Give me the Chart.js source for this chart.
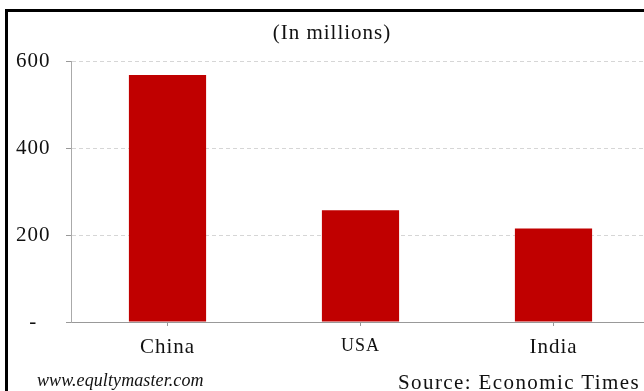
<!DOCTYPE html>
<html>
<head>
<meta charset="utf-8">
<script src="https://cdn.jsdelivr.net/npm/chart.js@4"></script>
<style>
  html, body { margin: 0; padding: 0; background: #fff; }
  body { width: 644px; height: 391px; overflow: hidden; position: relative; font-family: "Liberation Serif", "Times New Roman", serif; }
  #wrap { position: absolute; left: 0; top: 0; width: 650px; height: 391px; }
  #frame { position: absolute; left: 5px; top: 9px; width: 700px; height: 500px; border-left: 3px solid #000; border-top: 3px solid #000; }
  .foot { position: absolute; color: #111; white-space: nowrap; }
  #site { left: 37px; top: 370px; font-size: 18px; font-style: italic; letter-spacing: 0.1px; }
  #src { left: 398px; top: 370px; font-size: 21px; letter-spacing: 1.4px; }
</style>
</head>
<body>
<div id="frame"></div>
<div id="wrap"><canvas id="chart" width="650" height="391"></canvas></div>
<div class="foot" id="site">www.equltymaster.com</div>
<div class="foot" id="src">Source: Economic Times</div>
<script>
// values (millions)
const countries = ["China", "USA", "India"];
const values = [568, 257, 215];
const yTicks = [0, 200, 400, 600];
const chartTitle = "(In millions)";

const red = "#c00000";

// canvas letter spacing to mimic the wide serif text
const spacing = {
  id: "spacing",
  beforeDraw(chart) {
    chart.ctx.letterSpacing = "1px";
  }
};

const ctx = document.getElementById("chart");
new Chart(ctx, {
  type: "bar",
  data: {
    labels: countries,
    datasets: [{
      data: values,
      backgroundColor: red,
      borderWidth: 0,
      categoryPercentage: 1,
      barPercentage: 0.4
    }]
  },
  options: {
    responsive: false,
    animation: false,
    layout: { padding: { left: 14, right: 0, top: 0, bottom: 29 } },
    plugins: {
      legend: { display: false },
      tooltip: { enabled: false },
      title: {
        display: true,
        text: chartTitle,
        color: "#111",
        font: { family: "Liberation Serif", size: 21, weight: "normal", lineHeight: 1.2 },
        padding: { top: 21, bottom: 14.8 }
      }
    },
    scales: {
      x: {
        afterFit: (scale) => { scale.height = 40; },
        grid: {
          offset: false,
          drawOnChartArea: false,
          drawTicks: true,
          tickLength: 4,
          tickColor: "#999"
        },
        border: { display: true, color: "#999", width: 1 },
        ticks: {
          color: "#111",
          padding: 9,
          maxRotation: 0,
          font: (c) => ({
            family: "Liberation Serif",
            size: c.tick && c.tick.label === "USA" ? 18 : 21
          })
        }
      },
      y: {
        min: yTicks[0],
        max: yTicks[yTicks.length - 1],
        afterFit: (scale) => { scale.width = 57; },
        afterBuildTicks: (scale) => { scale.ticks = yTicks.map(v => ({ value: v })); },
        grid: {
          color: (c) => c.tick && c.tick.value === 0 ? "rgba(0,0,0,0)" : "#d6d6d6",
          lineWidth: 1,
          tickLength: 5,
          tickColor: "#999",
          tickBorderDash: []
        },
        border: { display: true, color: "#aaa", width: 1, dash: [4, 3] },
        ticks: {
          color: "#111",
          crossAlign: "center",
          padding: 17,
          font: { family: "Liberation Serif", size: 21 },
          callback: (v) => v === 0 ? "-" : v
        }
      }
    }
  },
  plugins: [spacing]
});
</script>
</body>
</html>
